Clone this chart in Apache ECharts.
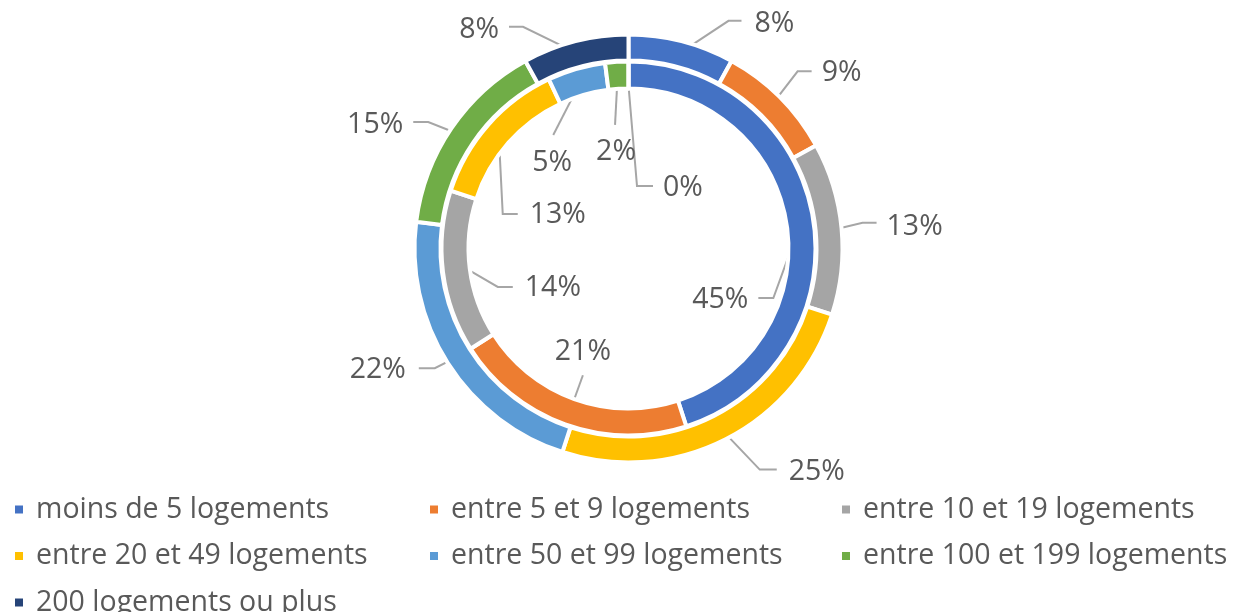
<!DOCTYPE html>
<html>
<head>
<meta charset="utf-8">
<script src="https://cdn.jsdelivr.net/npm/echarts@6/dist/echarts.min.js"></script>
<style>
html,body{margin:0;padding:0;background:#fff;}
#c{width:1234px;height:612px;}
</style>
</head>
<body>
<div id="c"></div>
<script>
// ---- data ----
const categories = [
  'moins de 5 logements',
  'entre 5 et 9 logements',
  'entre 10 et 19 logements',
  'entre 20 et 49 logements',
  'entre 50 et 99 logements',
  'entre 100 et 199 logements',
  '200 logements ou plus'
];
const outerValues = [8, 9, 13, 25, 22, 15, 8];
const innerValues = [45, 21, 14, 13, 5, 2, 0];
const colors = ['#4472C4', '#ED7D31', '#A5A5A5', '#FFC000', '#5B9BD5', '#70AD47', '#264478'];

// ---- label placement (style only) ----
// rs: leader start radius, ex/ey: elbow offset from start, h: horizontal run, tx/ty: text offset from line end
const outerPlace = [
  {rs:201, ex:50,   ey:-33,   h:13,  tx:13,  ty:3, al:'left'},
  {rs:201, ex:27,   ey:-35,   h:14,  tx:10,  ty:2, al:'left'},
  {rs:210, ex:25,   ey:-6,    h:14,  tx:10,  ty:4, al:'left'},
  {rs:201, ex:40,   ey:42,    h:17,  tx:12,  ty:2, al:'left'},
  {rs:201, ex:-24,  ey:12,    h:-16, tx:-13, ty:2, al:'right'},
  {rs:201, ex:-34,  ey:-13.5, h:-15, tx:-10, ty:3, al:'right'},
  {rs:201, ex:-55.5,ey:-27,   h:-14, tx:-10, ty:3, al:'right'}
];
const innerPlace = [
  {rs:175, ex:-28,  ey:77,    h:-15, tx:-10, ty:2,   al:'right'},
  {rs:173, ex:13,   ey:-36,   h:0,   tx:0,   ty:-23, al:'center'},
  {rs:163, ex:31,   ey:18,    h:15,  tx:12,  ty:1,   al:'left'},
  {rs:173, ex:4,    ey:80,    h:15,  tx:12,  ty:1,   al:'left'},
  {rs:173, ex:-27,  ey:52.6,  h:0,   tx:-1,  ty:28,  al:'center'},
  {rs:173, ex:-2.6, ey:49,    h:0,   tx:1,   ty:27,  al:'center'},
  {rs:163, ex:8.5,  ey:100.5, h:16,  tx:10,  ty:2,   al:'left'}
];

const FONT = 'Open Sans';
const TEXT_COLOR = '#595959';
const BORDER = 4;
const outerRadius = [188, 214];
const innerRadius = [160, 187];

function makeLayout(place, R) {
  return function (p) {
    const pts = p.labelLinePoints;
    const cfg = place[p.dataIndex];
    if (!pts || pts.length < 2 || !cfg) return {};
    const p0 = pts[0], p1 = pts[1];
    let dx = p1[0] - p0[0], dy = p1[1] - p0[1];
    const len = Math.hypot(dx, dy) || 1;
    dx /= len; dy /= len;
    const cx = p0[0] - R * dx, cy = p0[1] - R * dy;
    const s = [cx + cfg.rs * dx, cy + cfg.rs * dy];
    const e = [s[0] + cfg.ex, s[1] + cfg.ey];
    const f = [e[0] + cfg.h, e[1]];
    return {
      x: f[0] + cfg.tx,
      y: f[1] + cfg.ty,
      align: cfg.al,
      verticalAlign: 'middle',
      labelLinePoints: [s, e, f]
    };
  };
}

function buildData(values) {
  return values.map((v, i) => ({
    name: categories[i],
    value: v,
    itemStyle: { color: colors[i] }
  }));
}

function pieSeries(values, radius, place) {
  return {
    type: 'pie',
    center: [628.5, 248.5],
    radius: radius,
    startAngle: 90,
    clockwise: true,
    avoidLabelOverlap: false,
    minShowLabelAngle: 0,
    itemStyle: { borderColor: '#ffffff', borderWidth: BORDER },
    label: {
      show: true,
      position: 'outside',
      formatter: '{c}%',
      fontFamily: FONT,
      fontSize: 28.5,
      color: TEXT_COLOR
    },
    labelLine: {
      show: true,
      length: 10,
      length2: 10,
      smooth: false,
      lineStyle: { color: '#A6A6A6', width: 2 }
    },
    labelLayout: makeLayout(place, radius[1]),
    emphasis: { disabled: true },
    data: buildData(values)
  };
}

const legendCommon = {
  orient: 'vertical',
  top: 495,
  height: 140,
  padding: 0,
  icon: 'rect',
  itemWidth: 10,
  itemHeight: 10,
  itemGap: 17.5,
  selectedMode: false,
  textStyle: {
    fontFamily: FONT,
    fontSize: 28.5,
    color: TEXT_COLOR,
    lineHeight: 28,
    padding: [0, 0, 0, 7]
  }
};

const option = {
  animation: false,
  backgroundColor: '#ffffff',
  color: colors,
  legend: [
    Object.assign({}, legendCommon, { left: 13,  data: [categories[0], categories[3], categories[6]] }),
    Object.assign({}, legendCommon, { left: 428, data: [categories[1], categories[4]] }),
    Object.assign({}, legendCommon, { left: 840, data: [categories[2], categories[5]] })
  ],
  series: [
    pieSeries(outerValues, outerRadius, outerPlace),
    pieSeries(innerValues, innerRadius, innerPlace)
  ]
};

const chart = echarts.init(document.getElementById('c'), null, { renderer: 'canvas' });
chart.setOption(option);
</script>
</body>
</html>
